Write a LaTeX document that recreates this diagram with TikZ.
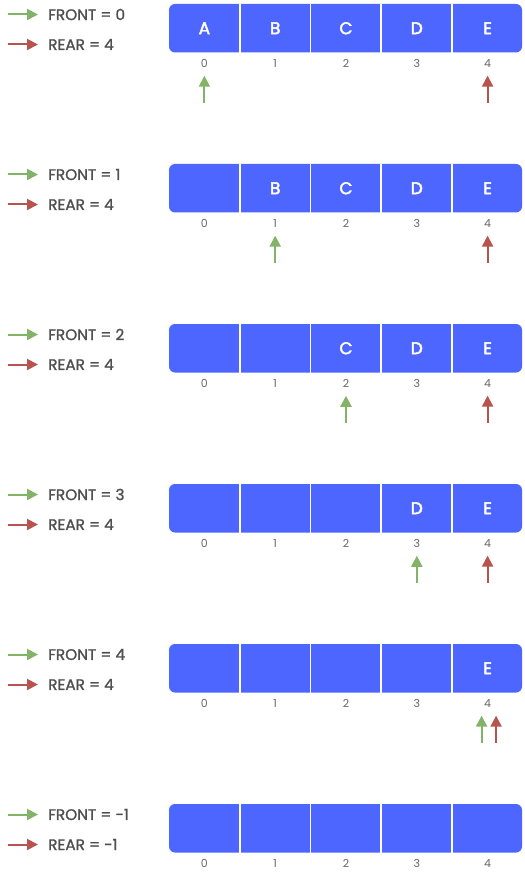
\documentclass[tikz,border=0pt]{standalone}
\usepackage{fontspec}
\setmainfont{Poppins}
\newfontfamily\medfont{Poppins}[FakeBold=1.4]
\newfontfamily\cellfont{Poppins}[FakeBold=2.6]
\usetikzlibrary{arrows.meta}
\definecolor{cellblue}{HTML}{4D66FF}
\definecolor{frontgreen}{HTML}{82B366}
\definecolor{rearred}{HTML}{B85450}
\definecolor{labelgray}{HTML}{505050}
\definecolor{idxgray}{HTML}{666666}
\tikzset{
    cell/.style={minimum width=70.8pt, minimum height=48.5pt, inner sep=0pt,
        text=white, font=\fontsize{17}{17}\cellfont},
    idx/.style={inner sep=0pt, text=idxgray, font=\fontsize{11}{11}\selectfont},
    legend/.style={anchor=west, inner sep=0pt, text=labelgray,
        font=\fontsize{15.3}{15.3}\medfont},
    ptr/.style={line width=2pt, -{Triangle[width=11pt,length=11pt]}},
}
\begin{document}
\begin{tikzpicture}[x=1pt,y=-1pt]
    \useasboundingbox (0,0) rectangle (524,874);
    \foreach \row/\fr/\re/\st in {0/0/4/0,1/1/4/1,2/2/4/2,3/3/4/3,4/4/4/4,5/-1/-1/5}{
    \begin{scope}[yshift=-\row*160pt]
        % queue array
        \fill[cellblue, rounded corners=6pt] (169,4) rectangle (522,52.5);
        \foreach \i/\t in {0/A,1/B,2/C,3/D,4/E}{
            \node[cell] (c\row\i) at (204.4+70.8*\i,28.25) {\ifnum\i<\st\else\t\fi};
            \node[idx] (n\row\i) at (204.4+70.8*\i,63.5) {\i};
        }
        \foreach \i in {1,...,4}
            \draw[white, line width=1.8pt] (c\row\i.north west) -- (c\row\i.south west);
        % legend
        \coordinate (lf\row) at (8,14.5);
        \coordinate (lr\row) at (8,44.5);
        \node[legend] (tf\row) at (48,14.5) {FRONT = \fr};
        \node[legend] (tr\row) at (48,44.5) {REAR = \re};
        \draw[ptr, frontgreen, shorten >=10pt] (lf\row) -- (tf\row.west);
        \draw[ptr, rearred, shorten >=10pt] (lr\row) -- (tr\row.west);
        % pointers
        \ifnum\fr>-1
            \ifnum\fr=\re
                \def\fo{-6}\def\ro{8.5}
            \else
                \def\fo{0}\def\ro{0}
            \fi
            \coordinate (pf\row) at ([xshift=\fo pt]n\row\fr.south |- 0,103);
            \coordinate (pr\row) at ([xshift=\ro pt]n\row\re.south |- 0,103);
            \draw[ptr, frontgreen, shorten >=8pt] (pf\row) -- ([xshift=\fo pt]n\row\fr.south);
            \draw[ptr, rearred, shorten >=8pt] (pr\row) -- ([xshift=\ro pt]n\row\re.south);
        \fi
    \end{scope}
    }
\end{tikzpicture}
\end{document}
